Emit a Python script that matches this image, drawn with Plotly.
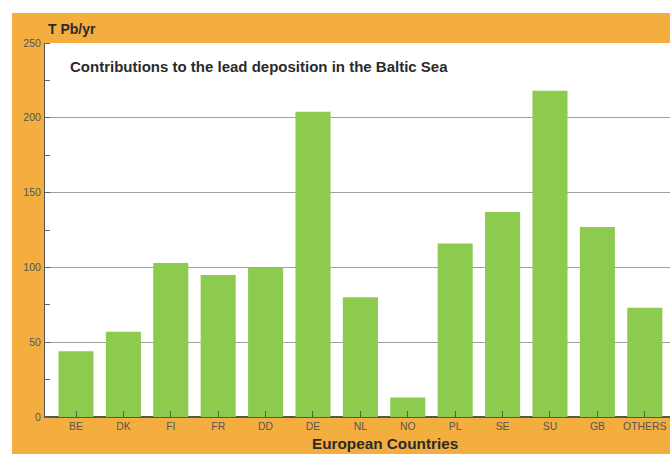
import plotly.graph_objects as go

# Lead deposition in the Baltic Sea by contributing country (tonnes Pb per year)
countries = ["BE", "DK", "FI", "FR", "DD", "DE", "NL", "NO", "PL", "SE", "SU", "GB", "OTHERS"]
deposition = [44, 57, 103, 95, 100, 204, 80, 13, 116, 137, 218, 127, 73]
y_ticks = [0, 50, 100, 150, 200, 250]

W, H = 670, 454
L, R, T, B = 45, 0, 43, 37
plot_w = W - L - R
plot_h = H - T - B

def px(x):
    return (x - L) / plot_w

def py(y):
    return (H - B - y) / plot_h

ORANGE = "#F4AD3F"
GREEN = "#8DCB4F"
FONT = "Liberation Sans, Arial, sans-serif"

fig = go.Figure(
    go.Bar(
        x=list(range(len(countries))),
        y=deposition,
        width=0.74,
        marker=dict(color=GREEN, line=dict(width=0)),
        hoverinfo="skip",
    )
)

# orange frame around the plotting area
frame = [
    (px(12), 1.0, 1.0, py(13)),      # top band
    (px(12), 0.0, py(454), py(13)),  # left band
    (px(12), 1.0, py(454), 0.0),     # bottom band
]
shapes = [
    dict(type="rect", xref="paper", yref="paper", x0=x0, x1=x1, y0=y0, y1=y1,
         fillcolor=ORANGE, line=dict(width=0), layer="below")
    for x0, x1, y0, y1 in frame
]

fig.update_layout(
    width=W,
    height=H,
    margin=dict(l=L, r=R, t=T, b=B),
    paper_bgcolor="white",
    plot_bgcolor="white",
    showlegend=False,
    shapes=shapes,
    font=dict(family=FONT, color="#444"),
    annotations=[
        dict(text="<b>T Pb/yr</b>", x=px(46), y=py(29), xref="paper", yref="paper",
             xanchor="left", yanchor="middle", showarrow=False,
             font=dict(size=14, color="#2b2b2b")),
        dict(text="<b>Contributions to the lead deposition in the Baltic Sea</b>",
             x=px(68), y=py(66), xref="paper", yref="paper",
             xanchor="left", yanchor="middle", showarrow=False,
             font=dict(size=15, color="#2b2b2b")),
        dict(text="<b>European Countries</b>", x=px(385), y=py(443),
             xref="paper", yref="paper", xanchor="center", yanchor="middle",
             showarrow=False, font=dict(size=15.3, color="#2b2b2b")),
    ],
)

fig.update_xaxes(
    range=[-0.654, 12.532],
    tickmode="array",
    tickvals=list(range(len(countries))),
    ticktext=countries,
    ticks="inside",
    ticklen=6,
    tickcolor="#4a6a3a",
    tickfont=dict(size=10.4, color="#555"),
    showgrid=False,
    showline=True,
    linecolor="#555",
    linewidth=1,
    zeroline=False,
    fixedrange=True,
)

fig.update_yaxes(
    range=[0, 250],
    tickmode="array",
    tickvals=y_ticks,
    ticks="",
    tickfont=dict(size=10.5, color="#555"),
    ticklabelstandoff=1,
    showgrid=True,
    gridcolor="#a0a0a0",
    gridwidth=1,
    showline=True,
    linecolor="#555",
    linewidth=1,
    zeroline=True,
    zerolinecolor="#555",
    minor=dict(dtick=25, tick0=0, ticks="inside", ticklen=5, tickcolor="#666", showgrid=False),
    fixedrange=True,
)

fig.write_html("out.html")
